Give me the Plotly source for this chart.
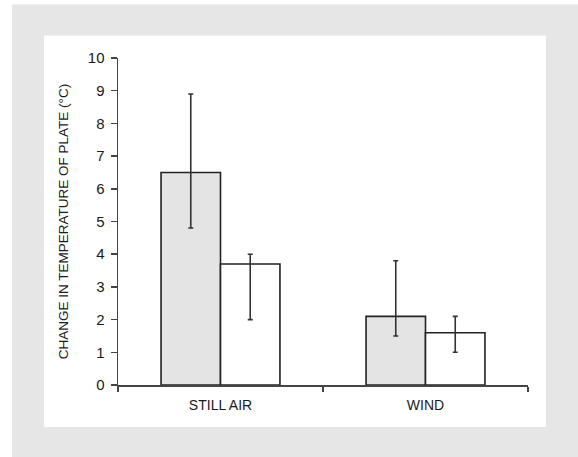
import plotly.graph_objects as go

categories = ["STILL AIR", "WIND"]
series_a = [6.5, 2.1]
series_a_high = [8.9, 3.8]
series_a_low = [4.8, 1.5]
series_b = [3.7, 1.6]
series_b_high = [4.0, 2.1]
series_b_low = [2.0, 1.0]
y_ticks = [0, 1, 2, 3, 4, 5, 6, 7, 8, 9, 10]

W, H = 578, 457
L, R, T, B = 118, 50, 57.6, 71.7
pw, ph = W - L - R, H - T - B


def px_x(p):
    return (p - L) / pw


def px_y(p):
    return (H - B - p) / ph


err_style = dict(type="data", symmetric=False, color="#333333", thickness=1.6, width=2.5)

fig = go.Figure()
fig.add_trace(go.Bar(
    x=categories, y=series_a,
    marker=dict(color="#e4e4e4", line=dict(color="#222222", width=1.6)),
    error_y=dict(array=[h - v for h, v in zip(series_a_high, series_a)],
                 arrayminus=[v - l for v, l in zip(series_a, series_a_low)], **err_style),
    showlegend=False,
))
fig.add_trace(go.Bar(
    x=categories, y=series_b,
    marker=dict(color="#ffffff", line=dict(color="#222222", width=1.6)),
    error_y=dict(array=[h - v for h, v in zip(series_b_high, series_b)],
                 arrayminus=[v - l for v, l in zip(series_b, series_b_low)], **err_style),
    showlegend=False,
))

fig.update_layout(
    width=W, height=H,
    margin=dict(l=L, r=R, t=T, b=B),
    paper_bgcolor="#ffffff", plot_bgcolor="#ffffff",
    barmode="group", bargap=0.42, bargroupgap=0,
    font=dict(family="Liberation Sans, Arial, sans-serif", color="#1a1a1a"),
    shapes=[
        dict(type="rect", xref="paper", yref="paper", layer="below",
             x0=px_x(12), x1=px_x(600), y0=px_y(480), y1=px_y(4),
             fillcolor="#e6e6e6", line=dict(width=0)),
        dict(type="rect", xref="paper", yref="paper", layer="below",
             x0=px_x(44), x1=px_x(546), y0=px_y(427.3), y1=px_y(35),
             fillcolor="#ffffff", line=dict(width=0)),
    ],
)
fig.update_xaxes(
    type="category", range=[-0.5, 1.5],
    showline=True, linecolor="#444444", linewidth=1.5,
    ticks="outside", tickson="boundaries", ticklen=5, tickcolor="#444444", tickwidth=1.5,
    tickfont=dict(size=14), ticklabelstandoff=7,
    showgrid=False, zeroline=False, fixedrange=True,
)
fig.update_yaxes(
    range=[0, 10], tickvals=y_ticks,
    showline=True, linecolor="#444444", linewidth=1.5,
    ticks="outside", ticklen=6, tickcolor="#444444", tickwidth=1.5,
    tickfont=dict(size=15), ticklabelstandoff=3,
    showgrid=False, zeroline=False, fixedrange=True,
    title=dict(text="CHANGE IN TEMPERATURE OF PLATE (°C)", font=dict(size=13.5), standoff=16),
    automargin=False,
)

fig.write_html("out.html", config={"displayModeBar": False, "staticPlot": True},
               post_script="document.body.style.margin='0';")
